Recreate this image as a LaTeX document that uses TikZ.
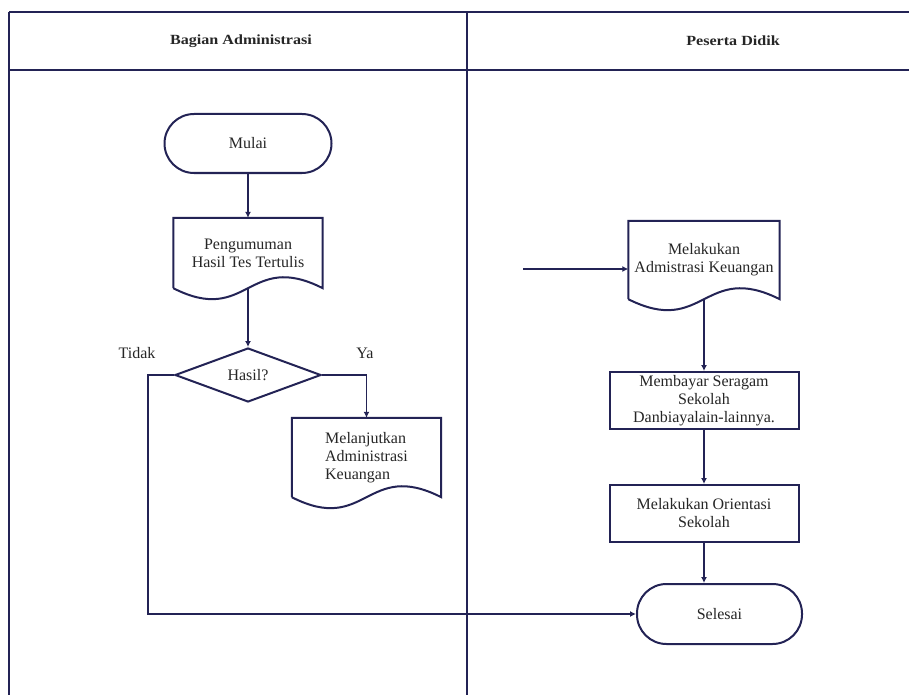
\documentclass[tikz,border=0pt]{standalone}
\usepackage{fontspec}
\setmainfont{Liberation Serif}
\newfontfamily\hdrfont[FakeStretch=1.15]{Liberation Serif}
\usetikzlibrary{shapes.geometric,arrows.meta,calc}
\definecolor{ln}{RGB}{35,35,85}
\newcommand\docoutline[1]{%
  \draw[shapeline] (#1.south west) -- (#1.north west) -- (#1.north east) -- (#1.south east)
    .. controls ($(#1.south)+(0,-38)$) and ($(#1.south)+(0,38)$) .. (#1.south west);}
\begin{document}
\begin{tikzpicture}[x=1pt,y=-1pt,
  every node/.style={font=\fontsize{16}{18}\selectfont, text=black!85},
  shapeline/.style={draw=ln, line width=2pt},
  frame/.style={draw=ln, line width=2pt},
  conn/.style={draw=ln, line width=1.6pt},
  arrow/.style={conn, -{Latex[length=6pt,width=6pt]}},
  term/.style={shapeline, fill=white, rectangle, rounded corners=29.5pt, inner sep=0pt},
  procbox/.style={shapeline, fill=white, rectangle, inner sep=0pt, align=center},
  docbox/.style={rectangle, inner sep=0pt},
  decision/.style={shapeline, fill=white, diamond, inner sep=0pt, aspect=2.7},
  hdr/.style={font=\hdrfont\bfseries\fontsize{14}{16}\selectfont}
]
\useasboundingbox (0,0) rectangle (909,695);
% frame
\coordinate (tl) at (9,12.5);
\coordinate (tr) at (909,12.5);
\coordinate (hl) at (9,70.5);
\coordinate (hr) at (909,70.5);
\coordinate (bl) at (9,695);
\coordinate (dt) at (467,12.5);
\coordinate (db) at (467,695);
\draw[frame] (tl) -- (tr);
\draw[frame] (hl) -- (hr);
\draw[frame] (tl) -- (bl);
\draw[frame] (dt) -- (db);
\node[hdr] (h1) at (241,41) {Bagian Administrasi};
\node[hdr] (h2) at (733,41) {Peserta Didik};

% nodes
\node[term, minimum width=167pt, minimum height=59pt] (mulai) at (248,143.5) {Mulai};
\node[docbox, minimum width=149pt, minimum height=70pt, align=center] (d1) at (248,253) {Pengumuman\\Hasil Tes Tertulis};
\node[decision, minimum width=146pt, minimum height=54pt] (dia) at (248,375) {Hasil?};
\node[docbox, minimum width=149pt, minimum height=79pt, align=left] (d2) at (366.5,457.5) {Melanjutkan\\Administrasi\\Keuangan};
\node (tidak) at (137,353) {Tidak};
\node (ya) at (365,353) {Ya};

\node[docbox, minimum width=151pt, minimum height=78pt, align=center] (d3) at (704,260) {Melakukan\\Admistrasi Keuangan};
\node[procbox, minimum width=189pt, minimum height=57pt] (b1) at (704,400.5) {Membayar Seragam\\Sekolah\\Danbiayalain-lainnya.};
\node[procbox, minimum width=189pt, minimum height=57pt] (b2) at (704,513.5) {Melakukan Orientasi\\Sekolah};
\node[term, minimum width=165pt, minimum height=60pt] (sel) at (719.5,614) {Selesai};

\docoutline{d1}
\docoutline{d2}
\docoutline{d3}

% connectors
\coordinate (inc) at (523,269);
\draw[arrow] (mulai.south) -- (d1.north);
\draw[arrow] (d1.south) -- (dia.north);
\draw[arrow] (dia.west) -- ++(-26,0) |- (sel.west);
\draw[arrow] (dia.east) -| (d2.north);
\draw[arrow] (inc) -- (inc -| d3.west);
\draw[arrow] (d3.south) -- (b1.north);
\draw[arrow] (b1.south) -- (b2.north);
\draw[arrow] (b2.south) -- (b2.south |- sel.north);
\end{tikzpicture}
\end{document}
